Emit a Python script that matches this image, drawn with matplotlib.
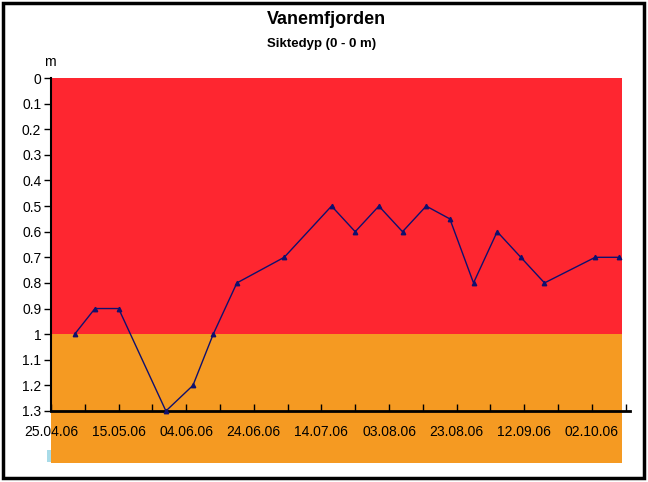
import matplotlib
matplotlib.use("Agg")
import matplotlib.pyplot as plt
import matplotlib.dates as mdates
from matplotlib.patches import Rectangle
import datetime as dt

plt.rcParams['font.family'] = ['Liberation Sans', 'DejaVu Sans']

title = "Vanemfjorden"
subtitle = "Siktedyp (0 - 0 m)"
dates = ['2006-05-02', '2006-05-08', '2006-05-15', '2006-05-29', '2006-06-06',
         '2006-06-12', '2006-06-19', '2006-07-03', '2006-07-17', '2006-07-24',
         '2006-07-31', '2006-08-07', '2006-08-14', '2006-08-21', '2006-08-28',
         '2006-09-04', '2006-09-11', '2006-09-18', '2006-10-03', '2006-10-10']
values = [1.0, 0.9, 0.9, 1.3, 1.2, 1.0, 0.8, 0.7, 0.5, 0.6,
          0.5, 0.6, 0.5, 0.55, 0.8, 0.6, 0.7, 0.8, 0.7, 0.7]
yticks = [0, 0.1, 0.2, 0.3, 0.4, 0.5, 0.6, 0.7, 0.8, 0.9, 1.0, 1.1, 1.2, 1.3]
ytick_labels = ['0', '0.1', '0.2', '0.3', '0.4', '0.5', '0.6', '0.7', '0.8',
                '0.9', '1', '1.1', '1.2', '1.3']
bands = [(0.0, 1.0, '#fe2630'), (1.0, 1.3, '#f59a22')]

W, H = 648, 482
fig = plt.figure(figsize=(W / 100, H / 100), dpi=100)

def fx(px):
    return px / W

def fy(py):
    return 1 - py / H

ax = fig.add_axes([fx(51), fy(411), fx(630) - fx(51), fy(78) - fy(411)])
ax.set_facecolor('white')

start = dt.datetime(2006, 4, 25)
x0 = mdates.date2num(start)
xend = x0 + 171.3
band_end = x0 + 169.0
ax.set_xlim(x0, xend)
ax.set_ylim(1.3, 0)

for lo, hi, c in bands:
    ax.add_patch(Rectangle((x0, lo), band_end - x0, hi - lo, facecolor=c,
                           edgecolor='none', zorder=0))

xd = [mdates.date2num(dt.datetime.strptime(d, '%Y-%m-%d')) for d in dates]
ax.plot(xd, values, color='#10106e', lw=1.0, marker='^', ms=3.2,
        markerfacecolor='#10106e', markeredgecolor='#10106e', zorder=3,
        clip_on=False)

major = [x0 + 20 * i for i in range(9)]
minor = [x0 + 10 * i for i in range(18)]
ax.set_xticks(major)
ax.set_xticks(minor, minor=True)
ax.set_xticklabels([mdates.num2date(m).strftime('%d.%m.%y') for m in major])
ax.set_yticks(yticks)
ax.set_yticklabels(ytick_labels)

ax.tick_params(axis='x', which='both', direction='in', length=5, width=1,
               labelsize=10, pad=10)
ax.tick_params(axis='y', direction='out', length=5, width=1, labelsize=10, pad=2)

for s in ['top', 'right']:
    ax.spines[s].set_visible(False)
ax.spines['bottom'].set_linewidth(2)
ax.spines['left'].set_linewidth(1.5)

# orange strip below the plot area
fig.patches.append(Rectangle((fx(51), fy(463)), fx(622) - fx(51), fy(411) - fy(463),
                             transform=fig.transFigure, facecolor='#f59a22',
                             edgecolor='none', zorder=-1))
fig.patches.append(Rectangle((fx(47), fy(462)), fx(51) - fx(47), fy(450) - fy(462),
                             transform=fig.transFigure, facecolor='#a8dbe8',
                             edgecolor='none', zorder=-1))
# border
fig.patches.append(Rectangle((fx(3), fy(478)), fx(644) - fx(3), fy(3) - fy(478),
                             transform=fig.transFigure, facecolor='none',
                             edgecolor='black', lw=2.5, zorder=5))

fig.text(fx(326), fy(20), title, ha='center', va='center', fontsize=13,
         fontweight='bold')
fig.text(fx(322), fy(44), subtitle, ha='center', va='center', fontsize=9.5,
         fontweight='bold')
fig.text(fx(50), fy(62), 'm', ha='center', va='center', fontsize=10)

fig.savefig('out.png', dpi=100)
